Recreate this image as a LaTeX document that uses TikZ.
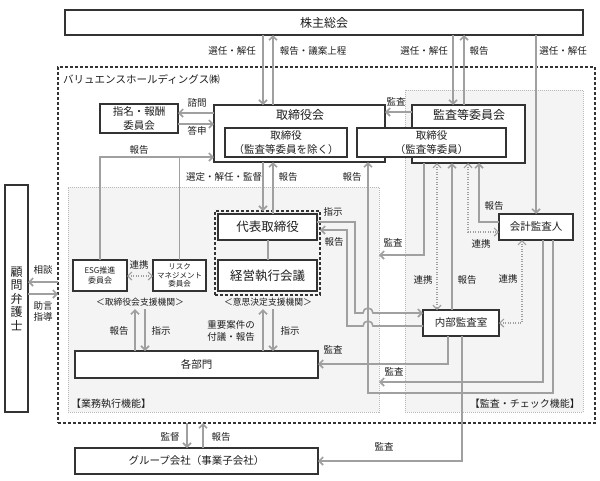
\documentclass[tikz,border=0pt]{standalone}
\usepackage{fontspec}
\setmainfont{Noto Sans CJK JP}
\usetikzlibrary{arrows.meta}
\definecolor{ln}{RGB}{160,160,160}
\definecolor{bd}{RGB}{51,51,51}
\definecolor{tx}{RGB}{30,30,30}
\definecolor{rg}{RGB}{244,244,244}
\definecolor{rgb}{RGB}{185,185,185}
\newcommand\myfs[2]{\fontsize{#1}{#2}\selectfont}
\tikzset{
  box/.style={draw=bd, line width=1.1pt, fill=white, text=tx, inner sep=0pt, outer sep=0pt, anchor=north west, align=center},
  region/.style={draw=rgb, fill=rg, line width=0.6pt, dash pattern=on 1pt off 1pt, anchor=north west, inner sep=0pt, outer sep=0pt},
  outerbox/.style={draw=bd, line width=1.2pt, dash pattern=on 3pt off 2pt, anchor=north west, inner sep=0pt, outer sep=0pt},
  dbox/.style={draw=bd, line width=1.2pt, dash pattern=on 3pt off 2pt, anchor=north west, inner sep=0pt, outer sep=0pt},
  tip/.tip={Straight Barb[length=4pt,width=8pt]},
  arr/.style={draw=ln, line width=1.6pt, -tip},
  plainln/.style={draw=ln, line width=1.6pt},
  arrd/.style={draw=ln, line width=1.2pt, dash pattern=on 1pt off 1.5pt, tip-tip},
  lab/.style={font=\myfs{9.5}{11}, text=tx, inner sep=0pt, align=center},
  subcap/.style={font=\myfs{8.8}{10}, text=tx, inner xsep=0pt, inner ysep=2pt, text height=6pt, text depth=2pt}
}
\begin{document}
\begin{tikzpicture}[x=1pt,y=-1pt]
\useasboundingbox[fill=white] (0,0) rectangle (600,480);
% regions
\node[region, minimum width=311pt, minimum height=225pt] (leftreg) at (68,187) {};
\node[region, minimum width=178pt, minimum height=322pt] (rightreg) at (405,90) {};
\node[lab, anchor=west, font=\myfs{10}{11}] (lblgyomu) at (71,404) {【業務執行機能】};
\node[lab, anchor=east, font=\myfs{10}{11}] (lblkansa) at (580,404) {【監査・チェック機能】};
\node[outerbox, minimum width=537pt, minimum height=356pt] (outer) at (58,67) {};
\node[lab, anchor=west, font=\myfs{10.5}{12}] (company) at (63,79) {バリュエンスホールディングス㈱};
\node[dbox, minimum width=105pt, minimum height=84pt] (dashbox) at (215,211) {};

% boxes
\node[box, minimum width=518pt, minimum height=25pt, font=\myfs{12}{14}] (soukai) at (65,10) {株主総会};
\node[box, minimum width=23pt, minimum height=227pt, font=\myfs{12}{13.5}] (bengoshi) at (5,185) {顧\\問\\弁\\護\\士};
\node[box, minimum width=78pt, minimum height=29pt, font=\myfs{10.5}{14}] (shimei) at (100,104) {指名・報酬\\委員会};
\node[box, minimum width=171pt, minimum height=57pt] (bod) at (214,105) {};
\node[lab, font=\myfs{12}{14}] (bodtitle) at (300,115) {取締役会};
\node[box, minimum width=113pt, minimum height=58pt] (acb) at (412,105) {};
\node[lab, font=\myfs{12}{14}] (acbtitle) at (469,115) {監査等委員会};
\node[box, minimum width=122pt, minimum height=29pt, font=\myfs{10.5}{14}] (bodin) at (225,128) {取締役\\（監査等委員を除く）};
\node[box, minimum width=149pt, minimum height=29pt, font=\myfs{10.5}{14}] (acbin) at (357,128) {取締役\\（監査等委員）};
\node[box, minimum width=99pt, minimum height=26pt, font=\myfs{12.5}{14}] (daihyo) at (218,214) {代表取締役};
\node[box, minimum width=99pt, minimum height=31pt, font=\myfs{12.5}{14}] (keiei) at (218,260) {経営執行会議};
\node[box, minimum width=54pt, minimum height=31pt, font=\myfs{8}{10.5}] (esg) at (73,260) {ESG推進\\委員会};
\node[box, minimum width=53pt, minimum height=31pt, font=\myfs{7.5}{8.7}] (risk) at (153,260) {リスク\\マネジメント\\委員会};
\node[box, minimum width=243pt, minimum height=27pt, font=\myfs{10.5}{12}] (kakubu) at (75,351) {各部門};
\node[box, minimum width=243pt, minimum height=26pt, font=\myfs{10.5}{12}] (group) at (75,448) {グループ会社（事業子会社）};
\node[box, minimum width=76pt, minimum height=26pt, font=\myfs{10.5}{12}] (naibu) at (423,310) {内部監査室};
\node[box, minimum width=74pt, minimum height=26pt, font=\myfs{10.5}{12}] (kaikei) at (499,214) {会計監査人};
\node[subcap] (shien1) at (140,303) {＜取締役会支援機関＞};
\node[subcap] (shien2) at (268,303) {＜意思決定支援機関＞};

% connectors: shareholders
\draw[arr] (soukai.south -| 263,0) -- (bod.north -| 263,0);
\draw[arr] (bod.north -| 273,0) -- (soukai.south -| 273,0);
\draw[arr] (soukai.south -| 453,0) -- (acb.north -| 453,0);
\draw[arr] (acb.north -| 464,0) -- (soukai.south -| 464,0);
\draw[arr] (soukai.south -| 536,0) -- (kaikei.north -| 536,0);
\node[lab] (l1) at (232,51) {選任・解任};
\node[lab] (l2) at (313,51) {報告・議案上程};
\node[lab] (l3) at (424,51) {選任・解任};
\node[lab] (l4) at (479,51) {報告};
\node[lab] (l5) at (563,51) {選任・解任};

% nomination committee
\draw[arr] (bod.west |- 0,113) -- (shimei.east |- 0,113);
\draw[arr] (shimei.east |- 0,124) -- (bod.west |- 0,124);
\node[lab] (l6) at (197,103) {諮問};
\node[lab] (l7) at (197,131) {答申};
% audit committee -> board
\draw[arr] (acb.west |- 0,112) -- (bod.east |- 0,112);
\node[lab] (l8) at (396,102) {監査};
% ESG / risk -> board
\draw[arr] (esg.north) |- (bod.west |- 0,157);
\draw[plainln] (risk.north) -- (risk.north |- 0,157);
\node[lab] (l9) at (139,150) {報告};
\draw[arrd] (esg.east |- 0,276) -- (risk.west |- 0,276);
\node[lab] (l10) at (139,265) {連携};
% board <-> representative director
\draw[arr] (bod.south -| 263,0) -- (dashbox.north -| 263,0);
\draw[arr] (daihyo.north -| 273,0) -- (bod.south -| 273,0);
\node[lab] (l11) at (224,177) {選定・解任・監督};
\node[lab] (l12) at (288,177) {報告};
\draw[draw=ln, line width=1.2pt] (daihyo.south -| 268,0) -- (keiei.north -| 268,0);
% departments
\draw[arr] (kakubu.north -| 135,0) -- (shien1.south -| 135,0);
\draw[arr] (shien1.south -| 145,0) -- (kakubu.north -| 145,0);
\node[lab] (l13) at (119,331) {報告};
\node[lab] (l14) at (161,331) {指示};
\draw[arr] (kakubu.north -| 263,0) -- (shien2.south -| 263,0);
\draw[arr] (shien2.south -| 273,0) -- (kakubu.north -| 273,0);
\node[lab, font=\myfs{9.5}{11.5}] (l15) at (231,331) {重要案件の\\付議・報告};
\node[lab] (l16) at (290,331) {指示};
% representative director <-> internal audit
\draw[arr] (daihyo.east |- 0,222) -- (355,222) -- (355,313) -- (363,313)
  arc[start angle=180, end angle=360, radius=5] -- (naibu.west |- 0,313);
\draw[arr] (naibu.west |- 0,326) -- (373,326)
  arc[start angle=0, end angle=-180, radius=5] -- (347,326) -- (347,230) -- (dashbox.east |- 0,230);
\node[lab] (l17) at (333,212) {指示};
\node[lab] (l18) at (334,242) {報告};
% audit committee links
\draw[arr] (acb.south -| 424,0) |- (leftreg.east |- 0,255);
\node[lab] (l19) at (393,243) {監査};
\draw[arrd] (acb.south -| 437,0) -- (naibu.north -| 437,0);
\node[lab] (l20) at (423,280) {連携};
\draw[arr] (naibu.north -| 452,0) -- (acb.south -| 452,0);
\node[lab] (l21) at (467,280) {報告};
\draw[arrd] (acb.south -| 468,0) |- (kaikei.west |- 0,232);
\node[lab] (l22) at (481,244) {連携};
\draw[arr] (kaikei.west |- 0,222) -| (acb.south -| 479,0);
\node[lab] (l23) at (494,206) {報告};
\draw[arrd] (kaikei.south -| 522,0) |- (naibu.east |- 0,323);
\node[lab] (l24) at (508,279) {連携};
% internal audit -> departments / group
\draw[arr] (naibu.south -| 448,0) |- (kakubu.east |- 0,364);
\node[lab] (l25) at (333,350) {監査};
\draw[arr] (naibu.south -| 462,0) |- (group.east |- 0,461);
\node[lab] (l26) at (384,447) {監査};
% accounting auditor
\draw[arr] (kaikei.south -| 543,0) |- (leftreg.east |- 0,382);
\node[lab] (l27) at (394,372) {監査};
\draw[arr] (kaikei.south -| 553,0) |- (368,393) -- (bod.south -| 368,0);
\node[lab] (l28) at (352,177) {報告};
% group
\draw[arr] (outer.south -| 187,0) -- (group.north -| 187,0);
\draw[arr] (group.north -| 203,0) -- (outer.south -| 203,0);
\node[lab] (l29) at (170,437) {監督};
\node[lab] (l30) at (221,437) {報告};
% lawyer
\draw[arr] (outer.west |- 0,282) -- (bengoshi.east |- 0,282);
\draw[arr] (bengoshi.east |- 0,294) -- (outer.west |- 0,294);
\node[lab] (l31) at (43,270) {相談};
\node[lab] (l32) at (43,311) {助言\\指導};
\end{tikzpicture}
\end{document}
